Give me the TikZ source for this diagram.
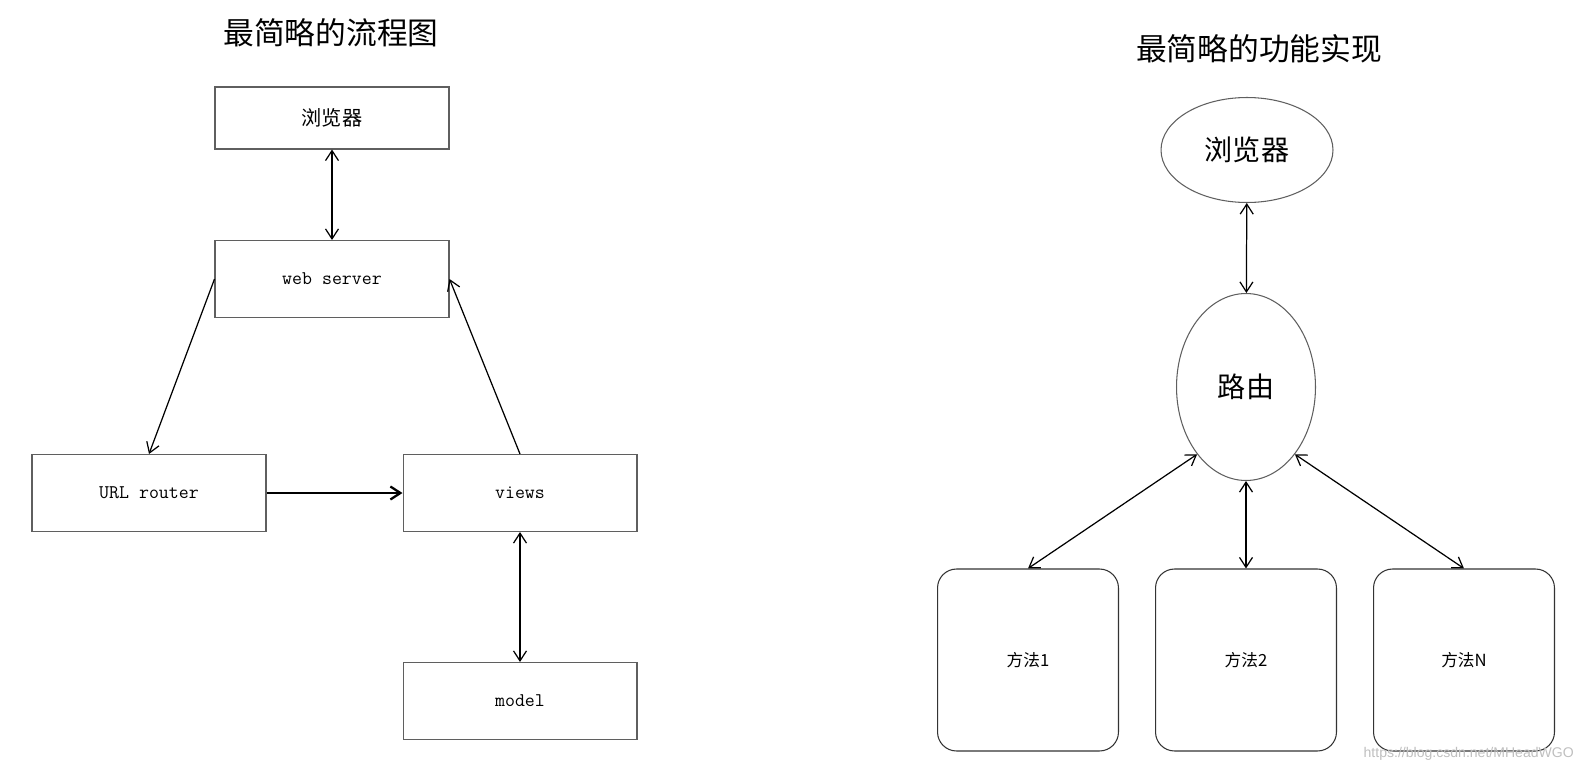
\documentclass[tikz,border=0pt]{standalone}
\usepackage{fontspec}
\setmainfont{Noto Sans CJK SC}
\newfontfamily\markfont{Liberation Sans}
\usetikzlibrary{arrows.meta, shapes.geometric, positioning}
\definecolor{boxline}{RGB}{95,95,95}

\begin{document}
\begin{tikzpicture}[x=0.02cm, y=-0.02cm,
  flowbox/.style={draw=boxline, line width=0.6pt, minimum width=4.68cm, minimum height=1.54cm, inner sep=0pt, font=\fontsize{11.5}{13}\selectfont},
  funcell/.style={draw=boxline, ellipse, line width=0.6pt, inner sep=0pt, font=\fontsize{16}{18}\selectfont},
  methodbox/.style={draw=black!80, rounded corners=0.38cm, line width=0.6pt, minimum width=3.62cm, minimum height=3.64cm, inner sep=0pt, font=\fontsize{9.5}{11}\selectfont},
  link/.style={line width=0.7pt, {Straight Barb[length=2mm,width=2.6mm]}-{Straight Barb[length=2mm,width=2.6mm]}},
  oneway/.style={line width=0.7pt, -{Straight Barb[length=2mm,width=2.6mm]}}
]
\useasboundingbox (0,0) rectangle (1596,764);

\node[font=\fontsize{17.5}{20}\selectfont] (flowtitle) at (331,33) {最简略的流程图};
\node[flowbox, minimum height=1.24cm] (browser) at (332,118) {浏览器};
\node[flowbox] (webserver) at (332,279) {\ttfamily\fontsize{11}{13}\selectfont web server};
\node[flowbox] (router) at (149,493) {\ttfamily\fontsize{11}{13}\selectfont URL router};
\node[flowbox] (views) at (520,493) {\ttfamily\fontsize{11}{13}\selectfont views};
\node[flowbox] (model) at (520,701) {\ttfamily\fontsize{11}{13}\selectfont model};

\draw[link] (browser) -- (webserver);
\draw[oneway] (webserver.west) -- (router.north);
\draw[oneway, line width=1.3pt] (router) -- (views);
\draw[oneway] (views.north) -- (webserver.east);
\draw[link] (views) -- (model);

\node[font=\fontsize{17.5}{20}\selectfont] (functitle) at (1259,49) {最简略的功能实现};
\node[funcell, minimum width=3.44cm, minimum height=2.1cm] (client) at (1247,150) {浏览器};
\node[funcell, minimum width=2.78cm, minimum height=3.74cm] (route) at (1246,387) {路由};
\foreach \name/\txt/\x in {meth1/方法1/1028, meth2/方法2/1246, methN/方法N/1464}
  \node[methodbox] (\name) at (\x,660) {\txt};

\draw[link] (client) -- (route);
\draw[link] (meth1.north) -- (route.-126);
\draw[link] (meth2) -- (route);
\draw[link] (methN.north) -- (route.-54);

\node[font=\markfont\fontsize{8}{10}\selectfont, text=black!25, anchor=east] (mark) at (1580,754) {https://blog.csdn.net/MHeadWGO};
\end{tikzpicture}
\end{document}
